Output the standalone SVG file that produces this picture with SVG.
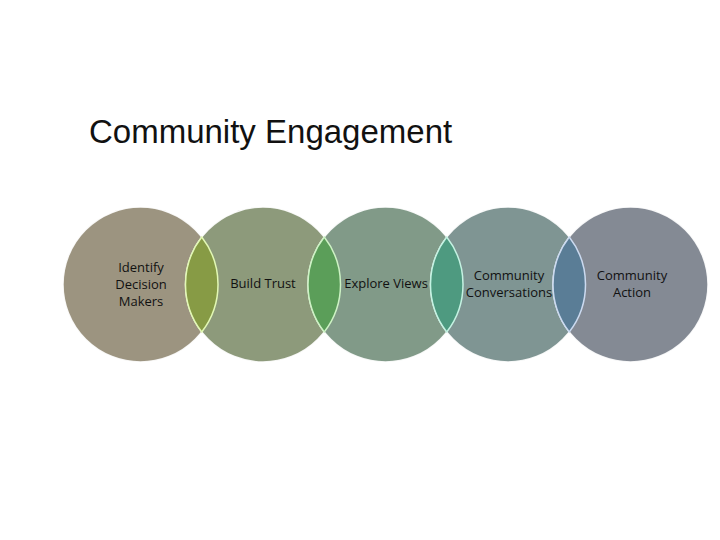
<svg xmlns="http://www.w3.org/2000/svg" width="720" height="540" viewBox="0 0 720 540">
<style>
.c{stroke:#ffffff;stroke-width:1.5;stroke-opacity:0.9}
.l{stroke-width:1.5}
.t{font-family:"Open Sans","Liberation Sans",sans-serif;font-size:13px;fill:#111;text-anchor:middle}
.title{font-family:"Liberation Sans",Arial,sans-serif;font-size:33px;fill:#111}
</style>
<rect width="720" height="540" fill="#ffffff"/>
<text class="title" x="89" y="143">Community Engagement</text>
<g id="circle1"><circle class="c" cx="140.5" cy="284.5" r="77.5" fill="#9c9480"/></g>
<g id="circle2"><circle class="c" cx="263" cy="284.5" r="77.5" fill="#8d9a7b"/></g>
<g id="circle3"><circle class="c" cx="385.5" cy="284.5" r="77.5" fill="#819a88"/></g>
<g id="circle4"><circle class="c" cx="508" cy="284.5" r="77.5" fill="#7f9593"/></g>
<g id="circle5"><circle class="c" cx="630.5" cy="284.5" r="77.5" fill="#848a94"/></g>
<g id="connectors">
<path class="l" d="M201.75,237 A77.5,77.5 0 0 1 201.75,332 A77.5,77.5 0 0 1 201.75,237 Z" fill="#879b45" stroke="#e2f8b4"/>
<path class="l" d="M324.25,237 A77.5,77.5 0 0 1 324.25,332 A77.5,77.5 0 0 1 324.25,237 Z" fill="#5b9e59" stroke="#cdf2c4"/>
<path class="l" d="M446.75,237 A77.5,77.5 0 0 1 446.75,332 A77.5,77.5 0 0 1 446.75,237 Z" fill="#4e9a80" stroke="#c4f2e2"/>
<path class="l" d="M569.25,237 A77.5,77.5 0 0 1 569.25,332 A77.5,77.5 0 0 1 569.25,237 Z" fill="#5a7d96" stroke="#cbdaf0"/>
</g>
<g id="label1"><text class="t" x="141" y="272">Identify</text><text class="t" x="141" y="289">Decision</text><text class="t" x="141" y="306">Makers</text></g>
<g id="label2"><text class="t" x="263" y="288">Build Trust</text></g>
<g id="label3"><text class="t" x="386" y="288">Explore Views</text></g>
<g id="label4"><text class="t" x="509" y="280">Community</text><text class="t" x="509" y="297">Conversations</text></g>
<g id="label5"><text class="t" x="632" y="280">Community</text><text class="t" x="632" y="297">Action</text></g>
</svg>
